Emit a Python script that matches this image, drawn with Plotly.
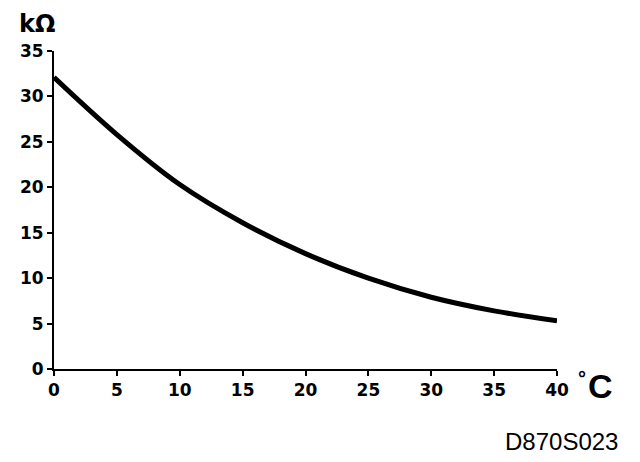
import plotly.graph_objects as go

temperature_c = [0, 5, 10, 15, 20, 25, 30, 35, 40]
resistance_kohm = [32.1, 25.8, 20.3, 16.1, 12.7, 10.0, 7.9, 6.4, 5.3]
x_ticks = [0, 5, 10, 15, 20, 25, 30, 35, 40]
y_ticks = [0, 5, 10, 15, 20, 25, 30, 35]

fig = go.Figure()
fig.add_trace(go.Scatter(
    x=temperature_c, y=resistance_kohm, mode="lines",
    line=dict(color="black", width=5, shape="spline", smoothing=1.0),
    hoverinfo="skip", showlegend=False,
))

tickfont = dict(family="DejaVu Sans", size=17, color="black", weight="bold")
# page body has an 8px margin; size the figure so the plot area lands at x 50-557, y 51-369
fig.update_layout(
    width=632, height=454,
    margin=dict(l=42, r=83, t=43, b=93),
    paper_bgcolor="white", plot_bgcolor="white",
    xaxis=dict(range=[0, 40], tickvals=x_ticks, showline=True, linecolor="black",
               linewidth=2, ticks="outside", ticklen=5, tickwidth=2, tickcolor="black",
               showgrid=False, zeroline=False, tickfont=tickfont),
    yaxis=dict(range=[0, 35], tickvals=y_ticks, showline=True, linecolor="black",
               linewidth=2, ticks="outside", ticklen=5, tickwidth=2, tickcolor="black",
               showgrid=False, zeroline=False, tickfont=tickfont),
    annotations=[
        dict(text="<b>kΩ</b>", xref="paper", yref="paper", x=(33 - 50) / 507, y=(369 - 24) / 318,
             xanchor="center", yanchor="middle", showarrow=False, borderpad=0,
             font=dict(family="DejaVu Sans", size=24, color="black")),
        dict(text="°", xref="paper", yref="paper", x=(582 - 50) / 507, y=(369 - 378) / 318,
             xanchor="center", yanchor="middle", showarrow=False,
             font=dict(family="Liberation Sans", size=20, color="black", weight="bold")),
        dict(text="C", xref="paper", yref="paper", x=(601 - 50) / 507, y=(369 - 386) / 318,
             xanchor="center", yanchor="middle", showarrow=False,
             font=dict(family="Liberation Sans", size=34, color="black", weight="bold")),
        dict(text="D870S023", xref="paper", yref="paper", x=(620 - 50) / 507, y=(369 - 441) / 318,
             xanchor="right", yanchor="middle", showarrow=False,
             font=dict(family="Liberation Sans", size=24, color="black")),
    ],
)
fig.write_html("out.html")
